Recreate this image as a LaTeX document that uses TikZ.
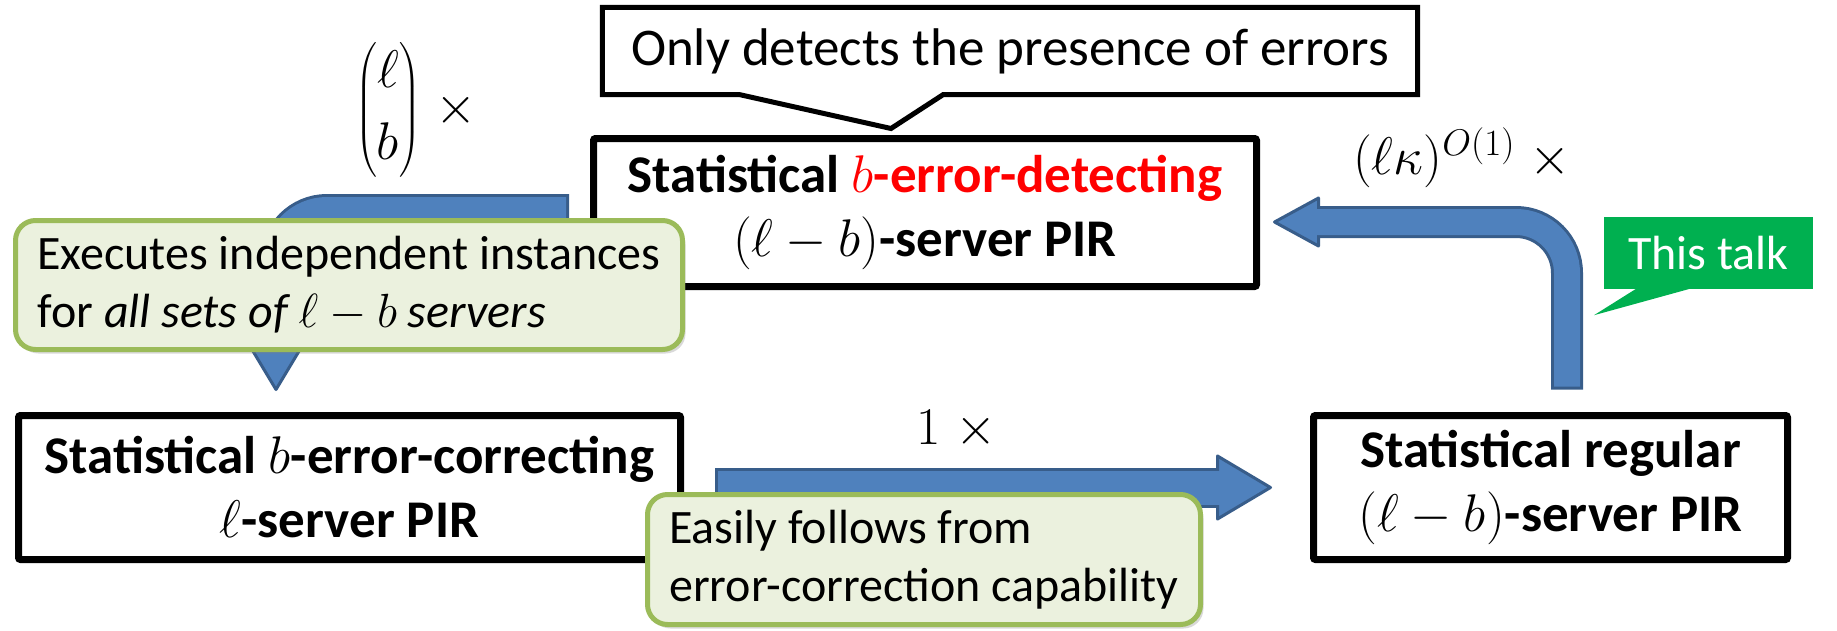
\RequirePackage{fix-cm}
\documentclass[tikz,border=0pt]{standalone}
\usepackage{amsmath}
\usepackage{fontspec}
\setmainfont{Carlito}
\usetikzlibrary{calc,shadows}

\definecolor{arrowfill}{RGB}{79,129,189}
\definecolor{arrowdraw}{RGB}{56,93,138}
\definecolor{notefill}{RGB}{235,241,222}
\definecolor{notedraw}{RGB}{155,187,89}
\definecolor{talkgreen}{RGB}{0,176,80}

\newcommand{\boxfont}{\fontsize{53}{64}\selectfont\bfseries}
\newcommand{\notefont}{\fontsize{48}{58}\selectfont}
\newcommand{\labelfont}{\fontsize{53}{64}\selectfont}

\begin{document}
\begin{tikzpicture}[
    x=1pt, y=-1pt,
    pirbox/.style={rectangle, draw=black, line width=7pt, rounded corners=2pt, align=center, font=\boxfont, inner sep=0pt},
    notebox/.style={rectangle, draw=notedraw, fill=notefill, line width=5pt, rounded corners=20pt, align=left, font=\notefont, inner sep=0pt, drop shadow={shadow xshift=3pt, shadow yshift=-4pt, opacity=0.3}},
    shaftout/.style={draw=arrowdraw, rounded corners=51pt},
    shaftin/.style={draw=arrowfill, rounded corners=51pt, shorten <=3pt},
    arrowhead/.style={fill=arrowfill, draw=arrowdraw, line width=3pt, line join=round},
]
\useasboundingbox (0,0) rectangle (1837,630);

\node[pirbox, minimum width=663pt, minimum height=148pt] (detect) at (925,212.5) {Statistical \textcolor{red}{$b$-error-detecting}\\$(\ell-b)$-server PIR};
\node[pirbox, minimum width=662pt, minimum height=144pt] (correct) at (349.5,487.5) {Statistical $b$-error-correcting\\$\ell$-server PIR};
\node[pirbox, minimum width=474pt, minimum height=144pt] (regular) at (1550.5,487.5) {Statistical regular\\$(\ell-b)$-server PIR};

\node[font=\labelfont] (binlabel) at (416,110) {$\displaystyle\binom{\ell}{b}\;\times$};
\node[font=\labelfont] (polylabel) at (1462,158) {$(\ell\kappa)^{O(1)}\;\times$};
\node[font=\labelfont] (onelabel) at (957,430) {$1\;\times$};

\node[font=\boxfont\mdseries, minimum width=815pt, minimum height=87pt, inner sep=0pt] (onlynote) at (1010,51) {Only detects the presence of errors};
\draw[line width=5pt] (onlynote.south west) -- (onlynote.north west) -- (onlynote.north east) -- (onlynote.south east)
    -- ([xshift=-67pt]onlynote.south) -- ([xshift=-34pt,yshift=6.5pt]detect.north) -- ([xshift=-270pt]onlynote.south) -- cycle;

\coordinate (lstart) at ([xshift=-21pt,yshift=2.5pt]detect.west);
\coordinate (ltip) at ([xshift=-73.5pt,yshift=22.5pt]correct.north);
\coordinate (rstart) at ([xshift=16.5pt,yshift=22.5pt]regular.north);
\coordinate (rtip) at ([xshift=14.5pt,yshift=-9.5pt]detect.east);
\coordinate (estart) at ([xshift=31pt]correct.east);
\coordinate (etip) at ([xshift=-39.5pt]regular.west);

\draw[shaftout, line width=32pt, shorten >=42pt] (lstart) -| (ltip);
\draw[arrowhead] (ltip) -- ++(-24,-40) -- ++(48,0) -- cycle;
\draw[shaftin, line width=26pt, shorten >=36pt] (lstart) -| (ltip);

\draw[shaftout, line width=32pt, shorten >=42pt] (rstart) |- (rtip);
\draw[arrowhead] (rtip) -- ++(44,-24) -- ++(0,48) -- cycle;
\draw[shaftin, line width=26pt, shorten >=38pt] (rstart) |- (rtip);

\draw[shaftout, line width=40pt, shorten >=50pt] (estart) -- (etip);
\draw[arrowhead] (etip) -- ++(-53,-31.5) -- ++(0,63) -- cycle;
\draw[shaftin, line width=34pt, shorten >=46pt] (estart) -- (etip);

\node[fill=talkgreen, text=white, font=\notefont, minimum width=209pt, minimum height=72pt, inner sep=0pt] (talknote) at (1708.5,253) {This talk};
\fill[talkgreen] ([xshift=-71.5pt,yshift=1pt]talknote.south) -- ([xshift=-114.5pt,yshift=-26pt]talknote.south) -- ([xshift=-16.5pt,yshift=1pt]talknote.south) -- cycle;

\node[notebox, minimum width=667pt, minimum height=129pt] (execnote) at (349,285) {Executes independent instances\\for \textit{all sets of $\ell-b$ servers}};
\node[notebox, minimum width=553pt, minimum height=130pt] (easynote) at (924,559.5) {Easily follows from\\error-correction capability};
\end{tikzpicture}
\end{document}
